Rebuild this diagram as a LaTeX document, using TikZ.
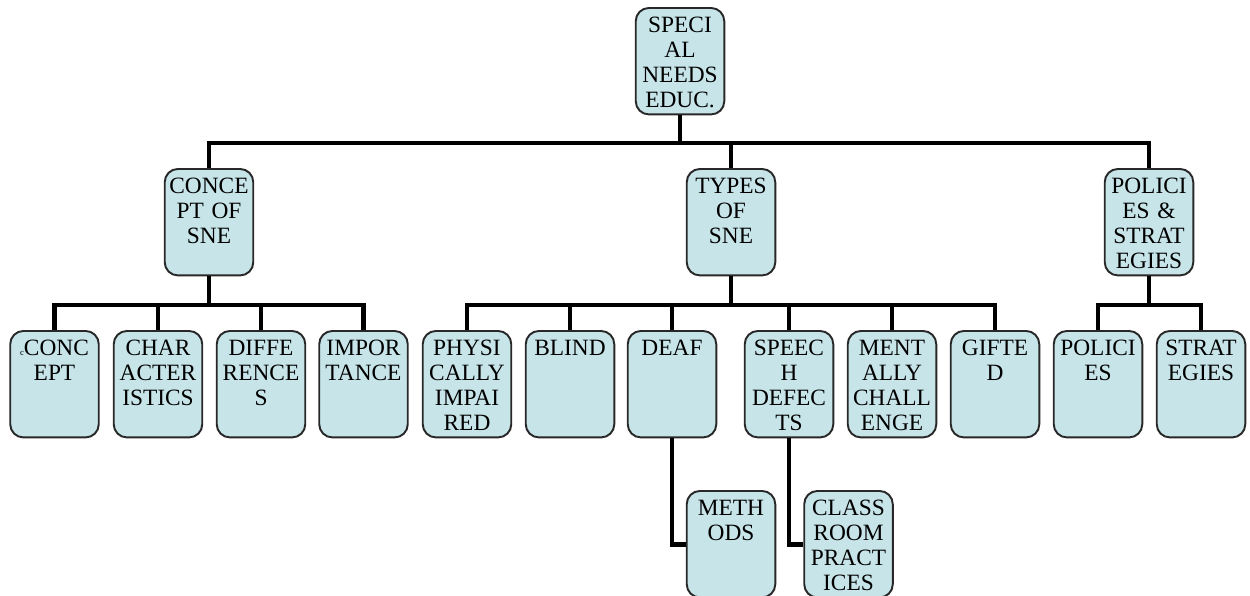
\documentclass[tikz,border=0pt]{standalone}
\usepackage{fontspec}
\setmainfont{Liberation Serif}

\definecolor{boxfill}{RGB}{199,228,233}
\definecolor{boxline}{RGB}{40,40,40}

\begin{document}
\begin{tikzpicture}[
  x=0.02cm, y=-0.02cm,
  font=\fontsize{13.3}{14.2}\selectfont,
  box/.style={draw=boxline, line width=1.1pt, fill=boxfill, rounded corners=7.5pt,
    anchor=north, inner xsep=0pt, inner ysep=0pt, text width=50.4pt, align=center,
    text height=14pt, text depth=46.6pt},
  link/.style={line width=2.8pt}
]
\useasboundingbox (0,0) rectangle (1250,595);

% ---- Root ----
\node[box] (sne) at (680,7) {SPECI\\AL\\NEEDS\\EDUC.};

% ---- Second level ----
\node[box] (concept)  at (209,168)  {CONCE\\PT OF\\SNE};
\node[box] (types)    at (731,168)  {TYPES\\OF\\SNE};
\node[box] (policies) at (1149,168) {POLICI\\ES \&\\STRAT\\EGIES};

% ---- Third level ----
\node[box] (cpt)      at (54.5,330) {{\fontsize{5}{5}\selectfont c}CONC\\EPT};
\node[box] (charac)   at (158,330)  {CHAR\\ACTER\\ISTICS};
\node[box] (diff)     at (261,330)  {DIFFE\\RENCE\\S};
\node[box] (import)   at (363.5,330) {IMPOR\\TANCE};
\node[box] (physical) at (467,330)  {PHYSI\\CALLY\\IMPAI\\RED};
\node[box] (blind)    at (570,330)  {BLIND};
\node[box] (deaf)     at (672,330)  {DEAF};
\node[box] (speech)   at (789,330)  {SPEEC\\H\\DEFEC\\TS};
\node[box] (mental)   at (892,330)  {MENT\\ALLY\\CHALL\\ENGE};
\node[box] (gifted)   at (995,330)  {GIFTE\\D};
\node[box] (pol)      at (1098,330) {POLICI\\ES};
\node[box] (strat)    at (1201,330) {STRAT\\EGIES};

% ---- Fourth level ----
\node[box] (methods)   at (731,490)   {METH\\ODS};
\node[box] (classroom) at (848.5,490) {CLASS\\ROOM\\PRACT\\ICES};

% ---- Connectors ----
\coordinate (bar1) at (0,143);
\coordinate (bar2) at (0,305);
\foreach \c in {concept,types,policies} {
  \draw[link] (sne.south) -- (sne.south |- bar1) -| (\c.north);
}
\foreach \p/\c in {concept/cpt,concept/charac,concept/diff,concept/import,
  types/physical,types/blind,types/deaf,types/speech,types/mental,types/gifted,
  policies/pol,policies/strat} {
  \draw[link] (\p.south) -- (\p.south |- bar2) -| (\c.north);
}
\draw[link] (deaf.south) |- (methods.west);
\draw[link] (speech.south) |- (classroom.west);

\end{tikzpicture}
\end{document}
